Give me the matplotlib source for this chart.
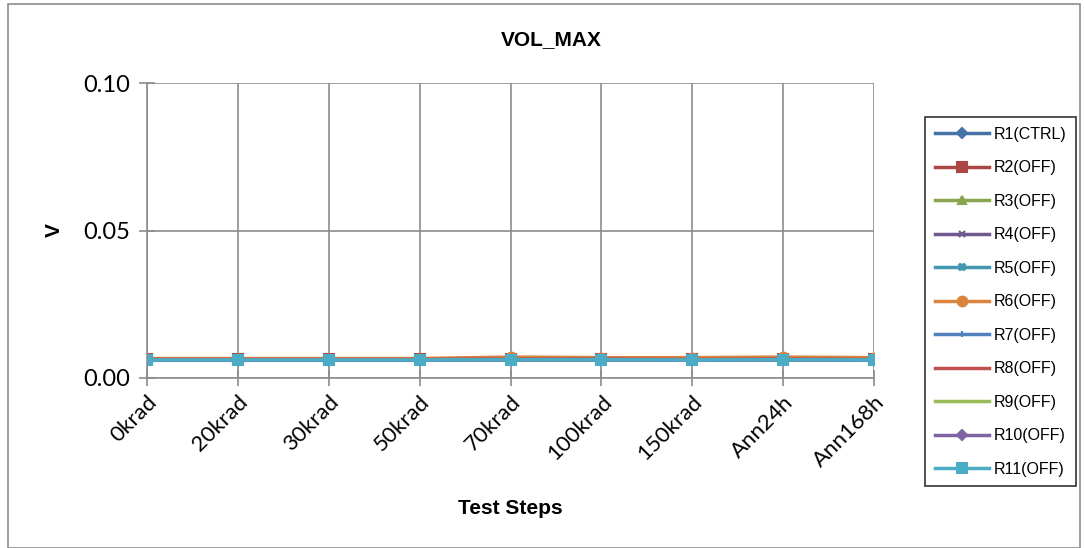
import matplotlib
matplotlib.use("Agg")
import matplotlib.pyplot as plt
from matplotlib.patches import Rectangle

steps = ["0krad", "20krad", "30krad", "50krad", "70krad", "100krad", "150krad", "Ann24h", "Ann168h"]
series_names = ["R1(CTRL)", "R2(OFF)", "R3(OFF)", "R4(OFF)", "R5(OFF)", "R6(OFF)",
                "R7(OFF)", "R8(OFF)", "R9(OFF)", "R10(OFF)", "R11(OFF)"]
r1 = [0.0062, 0.0062, 0.0062, 0.0062, 0.0063, 0.0063, 0.0062, 0.0063, 0.0062]
r2 = [0.0063, 0.0063, 0.0063, 0.0063, 0.0065, 0.0065, 0.0064, 0.0065, 0.0064]
r3 = [0.0061, 0.0061, 0.0061, 0.0061, 0.0062, 0.0062, 0.0061, 0.0062, 0.0061]
r4 = [0.0060, 0.0060, 0.0060, 0.0060, 0.0061, 0.0061, 0.0060, 0.0061, 0.0060]
r5 = [0.0062, 0.0062, 0.0062, 0.0062, 0.0063, 0.0063, 0.0062, 0.0063, 0.0062]
r6 = [0.0066, 0.0066, 0.0066, 0.0066, 0.0071, 0.0069, 0.0069, 0.0071, 0.0069]
r7 = [0.0062, 0.0062, 0.0062, 0.0062, 0.0063, 0.0063, 0.0062, 0.0063, 0.0062]
r8 = [0.0063, 0.0063, 0.0063, 0.0063, 0.0064, 0.0064, 0.0063, 0.0064, 0.0063]
r9 = [0.0061, 0.0061, 0.0061, 0.0061, 0.0062, 0.0062, 0.0061, 0.0062, 0.0061]
r10 = [0.0060, 0.0060, 0.0060, 0.0060, 0.0061, 0.0061, 0.0060, 0.0061, 0.0060]
r11 = [0.0061, 0.0061, 0.0061, 0.0061, 0.0062, 0.0062, 0.0061, 0.0062, 0.0061]
all_series = [r1, r2, r3, r4, r5, r6, r7, r8, r9, r10, r11]

colors = ["#4572A7", "#AA4643", "#89A54E", "#71588F", "#4198AF", "#DB843D",
          "#4F81BD", "#C0504D", "#9BBB59", "#8064A2", "#4BACC6"]
markers = ["D", "s", "^", "x", "X", "o", "+", "_", "_", "D", "s"]
msizes = [5, 7, 6, 5, 5, 7, 5, 5, 5, 5, 7]

fig = plt.figure(figsize=(10.85, 5.48), dpi=100)
fig.patches.append(Rectangle((8/1085, 0), 1072/1085, 1 - 4/548, transform=fig.transFigure,
                             fill=False, edgecolor="#8C8C8C", linewidth=1.2))

ax = fig.add_axes([147/1085, 1 - 378/548, (874 - 147)/1085, (378 - 83)/548])
x = list(range(len(steps)))
handles = []
for name, ys, c, m, ms in zip(series_names, all_series, colors, markers, msizes):
    h, = ax.plot(x, ys, color=c, marker=m, markersize=ms, linewidth=2.5,
                 markeredgecolor=c, markeredgewidth=1.5, label=name)
    handles.append(h)

ax.set_xlim(0, len(steps) - 1)
ax.set_ylim(0, 0.10)
ax.set_yticks([0.0, 0.05, 0.10])
ax.set_yticklabels(["0.00", "0.05", "0.10"], fontsize=17, family="Lato")
ax.set_xticks(x)
ax.set_xticklabels(steps, rotation=45, ha="right", rotation_mode="anchor",
                   fontsize=16, family="Lato")
ax.grid(True, color="#8C8C8C", linewidth=1.2)
ax.set_axisbelow(True)
for s in ["top", "right"]:
    ax.spines[s].set_visible(False)
ax.spines["left"].set_color("#8C8C8C")
ax.spines["bottom"].set_color("#8C8C8C")
ax.spines["left"].set_linewidth(1.2)
ax.spines["bottom"].set_linewidth(1.2)
ax.tick_params(axis="y", length=12, width=1.2, color="#8C8C8C", direction="inout", pad=6)
ax.tick_params(axis="x", length=12, width=1.2, color="#8C8C8C", direction="inout", pad=4)

fig.text(551/1085, 1 - 40/548, "VOL_MAX", ha="center", va="center",
         fontsize=15, fontweight="bold", family="Liberation Sans")
fig.text(510/1085, 1 - 508/548, "Test Steps", ha="center", va="center",
         fontsize=15, fontweight="bold", family="Liberation Sans")
fig.text(54/1085, 1 - 230/548, "V", ha="center", va="center", rotation=90,
         fontsize=15, fontweight="bold", family="Liberation Sans")

leg = fig.legend(handles=handles, loc="upper left",
                 bbox_to_anchor=(925/1085, 1 - 117/548),
                 prop={"family": "Liberation Sans", "size": 11.5},
                 frameon=True, fancybox=False, edgecolor="black",
                 handlelength=3.4, labelspacing=1.16, borderpad=0.6,
                 handletextpad=0.3, borderaxespad=0)
leg.get_frame().set_linewidth(1.2)

fig.savefig("out.png", dpi=100)
